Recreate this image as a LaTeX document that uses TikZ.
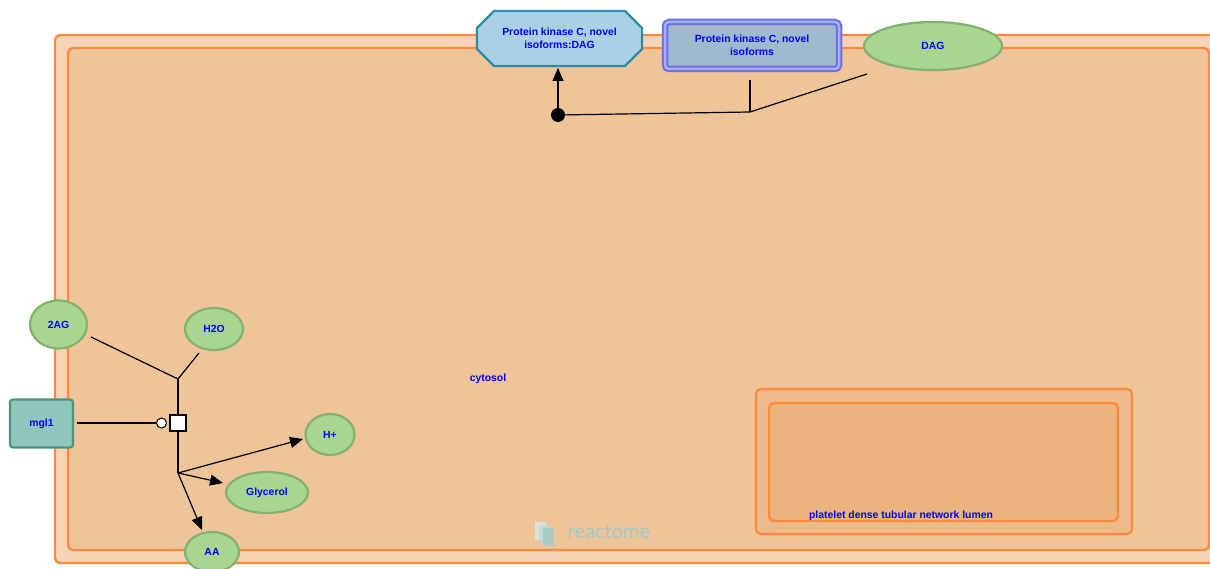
\documentclass[tikz,border=0pt]{standalone}
\usepackage{fontspec}
\setmainfont{Liberation Sans}
\newfontfamily\markfont{Lato}
\usetikzlibrary{arrows.meta, shapes.geometric, shapes.misc}

\definecolor{membrane}{HTML}{F6D5B6}
\definecolor{cytosolfill}{HTML}{EFC499}
\definecolor{compline}{HTML}{FF8A3D}
\definecolor{dtsfill}{HTML}{EDBB8B}
\definecolor{dtsinner}{HTML}{EBB37E}
\definecolor{chemfill}{HTML}{A6D690}
\definecolor{chemline}{HTML}{84B170}
\definecolor{cplxfill}{HTML}{A9D0E4}
\definecolor{cplxline}{HTML}{2E8CA8}
\definecolor{setfill}{HTML}{A1B9CD}
\definecolor{setline}{HTML}{6E6EE6}
\definecolor{setband}{HTML}{A5B0F2}
\definecolor{protfill}{HTML}{8FC7BD}
\definecolor{protline}{HTML}{4D9384}
\definecolor{labelblue}{HTML}{0000FF}
\definecolor{markcol}{HTML}{A3C8C8}

\begin{document}
\begin{tikzpicture}[x=1pt, y=-1pt,
    txt/.style={text=labelblue, font=\fontsize{10.4}{12.5}\selectfont\bfseries, align=center},
    chem/.style={txt, ellipse, draw=chemline, fill=chemfill, line width=2.2pt, inner sep=0pt},
    comp/.style={draw=compline, line width=2.4pt, rounded corners=5pt},
    link/.style={line width=1.2pt},
    prod/.style={link, -{Triangle[length=13pt, width=11pt]}}]
      \useasboundingbox (0,0) rectangle (1210,569);

      % compartments
      \draw[comp, fill=membrane] (55,35) rectangle (1232,563);
      \draw[comp, fill=cytosolfill] (68,48) rectangle (1209,550);
      \draw[comp, fill=dtsfill] (756,389) rectangle (1132,534);
      \draw[comp, fill=dtsinner] (769,403) rectangle (1118,521);
      \node[txt] (cytosol) at (488,379) {cytosol};
      \node[txt] (dtslumen) at (901,516) {platelet dense tubular network lumen};

      % watermark
      \fill[markcol!40, opacity=0.8] (535,522) rectangle (546,540);
      \fill[markcol!70, opacity=0.8] (539,525) rectangle (550,543);
      \fill[markcol, opacity=0.8] (543,528) rectangle (554,546);
      \node[text=markcol, font=\markfont\fontsize{20}{20}\selectfont, inner sep=0pt] (mark) at (609,532) {reactome};

      % entities
      \node[txt, chamfered rectangle, chamfered rectangle xsep=9pt, chamfered rectangle ysep=8pt, draw=cplxline, fill=cplxfill, line width=2.2pt, minimum width=165, minimum height=55] (pkcdag) at (559.5,38.5) {Protein kinase C, novel\\isoforms:DAG};
      \node[txt, draw=setline, line width=2pt, double=setband, double distance=2.5pt, fill=setfill, rounded corners=4pt, minimum width=174, minimum height=47] (pkc) at (752,45.5) {Protein kinase C, novel\\isoforms};
      \node[chem, minimum width=138, minimum height=48] (dag) at (933,46) {DAG};
      \node[chem, minimum width=57, minimum height=48] (ag) at (58.5,324.5) {2AG};
      \node[chem, minimum width=58, minimum height=42] (water) at (214,329) {H2O};
      \node[txt, draw=protline, fill=protfill, line width=2.2pt, rounded corners=3pt, minimum width=63, minimum height=48] (mgl) at (41.5,423.5) {mgl1};
      \node[chem, minimum width=49, minimum height=41] (hplus) at (330,434.5) {H+};
      \node[chem, minimum width=82, minimum height=41] (glyc) at (267,492.5) {Glycerol};
      \node[chem, minimum width=54, minimum height=40] (aa) at (212,552) {AA};

      % binding
      \node[circle, fill=black, inner sep=0pt, minimum size=14pt] (bind) at (558,115) {};
      \coordinate (bindjoin) at (750,112);
      \coordinate (pkctail) at (750,80);
      \coordinate (dagtail) at (867,74);
      \coordinate (pkcdaghead) at (558,68);
      \draw[link] (pkctail) -- (bindjoin);
      \draw[link] (dagtail) -- (bindjoin) -- (bind);
      \draw[prod] (bind) -- (pkcdaghead);

      % hydrolysis
      \node[rectangle, draw, fill=white, line width=1.2pt, inner sep=0pt, minimum size=16pt] (rxn) at (178,423) {};
      \node[circle, draw, fill=white, line width=1pt, inner sep=0pt, minimum size=10pt] (cat) at (161.5,423) {};
      \coordinate (injoin) at (178,379);
      \coordinate (outjoin) at (178,473);
      \coordinate (agtail) at (91,337);
      \coordinate (watertail) at (199,353);
      \coordinate (mgltail) at (77,423);
      \coordinate (hplushead) at (303,439);
      \coordinate (glychead) at (223,483);
      \coordinate (aahead) at (202,530);
      \draw[link] (agtail) -- (injoin);
      \draw[link] (watertail) -- (injoin);
      \draw[link] (injoin) -- (rxn.north);
      \draw[link] (rxn.south) -- (outjoin);
      \draw[link] (mgltail) -- (cat);
      \draw[prod] (outjoin) -- (hplushead);
      \draw[prod] (outjoin) -- (glychead);
      \draw[prod] (outjoin) -- (aahead);
    \end{tikzpicture}
\end{document}
